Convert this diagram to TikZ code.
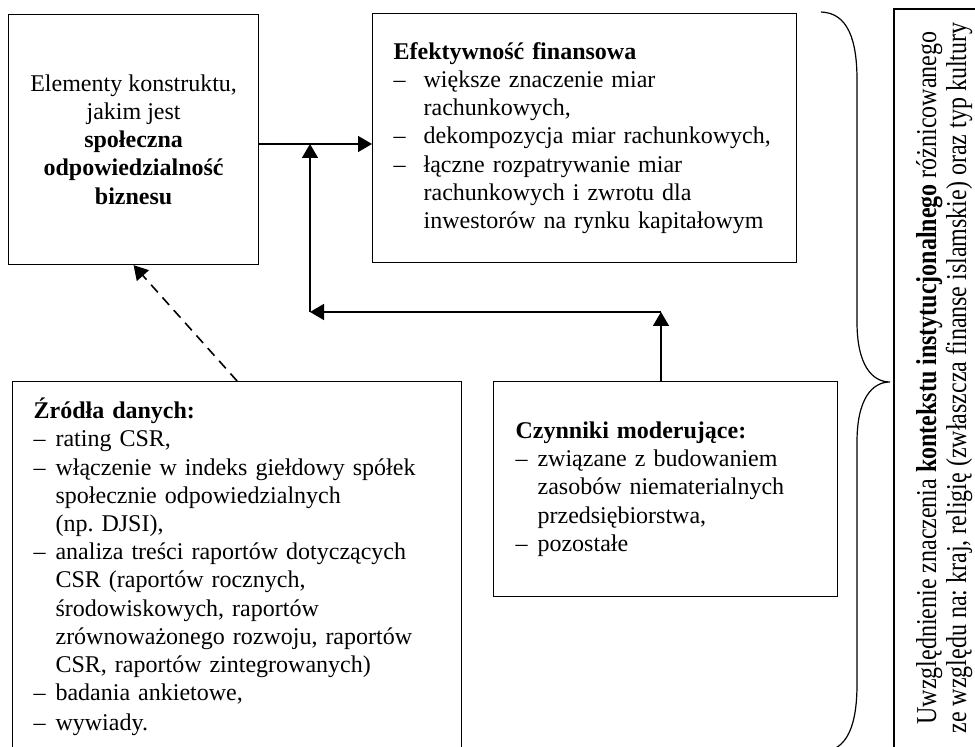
\documentclass[tikz,border=0pt]{standalone}
\usepackage{fontspec}
\setmainfont{Liberation Serif}
\usetikzlibrary{arrows.meta}
\frenchspacing

\newcommand{\pkt}[1][11pt]{\makebox[#1][l]{\textendash}}
\newcommand{\wci}[1][11pt]{\hspace*{#1}}

\begin{document}
\begin{tikzpicture}[x=0.5pt, y=-0.5pt,
    box/.style={draw, semithick, inner sep=0pt, font=\fontsize{12}{14.1}\selectfont},
    arr/.style={thick, -{Triangle[length=7pt, width=8pt]}}]
    \useasboundingbox (0,0) rectangle (975,747);
    \clip (0,0) rectangle (975,747);

    % The construct
    \node[box, anchor=north west, minimum width=125pt, minimum height=125pt, align=center] (csr) at (8,14)
        {Elementy konstruktu,\\ jakim jest\\ \textbf{społeczna}\\ \textbf{odpowiedzialność}\\ \textbf{biznesu}};

    % Financial performance
    \node[box, anchor=north west, minimum width=212pt, minimum height=124.5pt, text width=191pt, align=left] (efekt) at (372,13)
        {\textbf{Efektywność finansowa}\\
         \pkt[15pt]większe znaczenie miar\\
         \wci[15pt]rachunkowych,\\
         \pkt[15pt]dekompozycja miar rachunkowych,\\
         \pkt[15pt]łączne rozpatrywanie miar\\
         \wci[15pt]rachunkowych i zwrotu dla\\
         \wci[15pt]inwestorów na rynku kapitałowym};

    % Data sources
    \node[box, anchor=north west, minimum width=224.5pt, minimum height=185.5pt, text width=203.5pt, align=left] (zrodla) at (12,381)
        {\textbf{Źródła danych:}\\
         \pkt rating CSR,\\
         \pkt włączenie w indeks giełdowy spółek\\
         \wci społecznie odpowiedzialnych\\
         \wci (np.\ DJSI),\\
         \pkt analiza treści raportów dotyczących\\
         \wci CSR (raportów rocznych,\\
         \wci środowiskowych, raportów\\
         \wci zrównoważonego rozwoju, raportów\\
         \wci CSR, raportów zintegrowanych)\\
         \pkt badania ankietowe,\\[1pt]
         \pkt wywiady.};

    % Moderating factors
    \node[box, anchor=north west, minimum width=172pt, minimum height=107.5pt, text width=150pt, align=left] (czyn) at (493,381)
        {\textbf{Czynniki moderujące:}\\
         \pkt związane z budowaniem\\
         \wci zasobów niematerialnych\\
         \wci przedsiębiorstwa,\\
         \pkt pozostałe};

    % Institutional context
    \draw[semithick] (894,9) rectangle (1000,760);
    \node[rotate=90] (kontekst) at (945,378)
        {\scalebox{1}[1.2]{\fontsize{12}{12.5}\selectfont\begin{tabular}{@{}c@{}}
         Uwzględnienie znaczenia \textbf{kontekstu instytucjonalnego} różnicowanego\\
         ze względu na: kraj, religię (zwłaszcza finanse islamskie) oraz typ kultury
         \end{tabular}}};

    % Brace
    \draw[semithick] (821,12) .. controls (848,13) and (857,40) .. (857,80) -- (857,322)
        .. controls (857,365) and (872,382) .. (890,382)
        .. controls (872,382) and (857,399) .. (857,442) -- (857,684)
        .. controls (857,724) and (848,751) .. (821,752);

    % Connectors
    \coordinate (wezel) at (310,144);
    \coordinate (ml) at (310,312);
    \coordinate (mr) at (661,312);
    \draw[arr] (csr.east |- wezel) -- (efekt.west |- wezel);
    \draw[arr] (mr |- czyn.north) -- (mr);
    \draw[arr] (mr) -- (ml);
    \draw[arr] (ml) -- (wezel);
    \draw[arr, dash pattern=on 5pt off 3.5pt] (zrodla.north) -- (csr.south);
\end{tikzpicture}
\end{document}
